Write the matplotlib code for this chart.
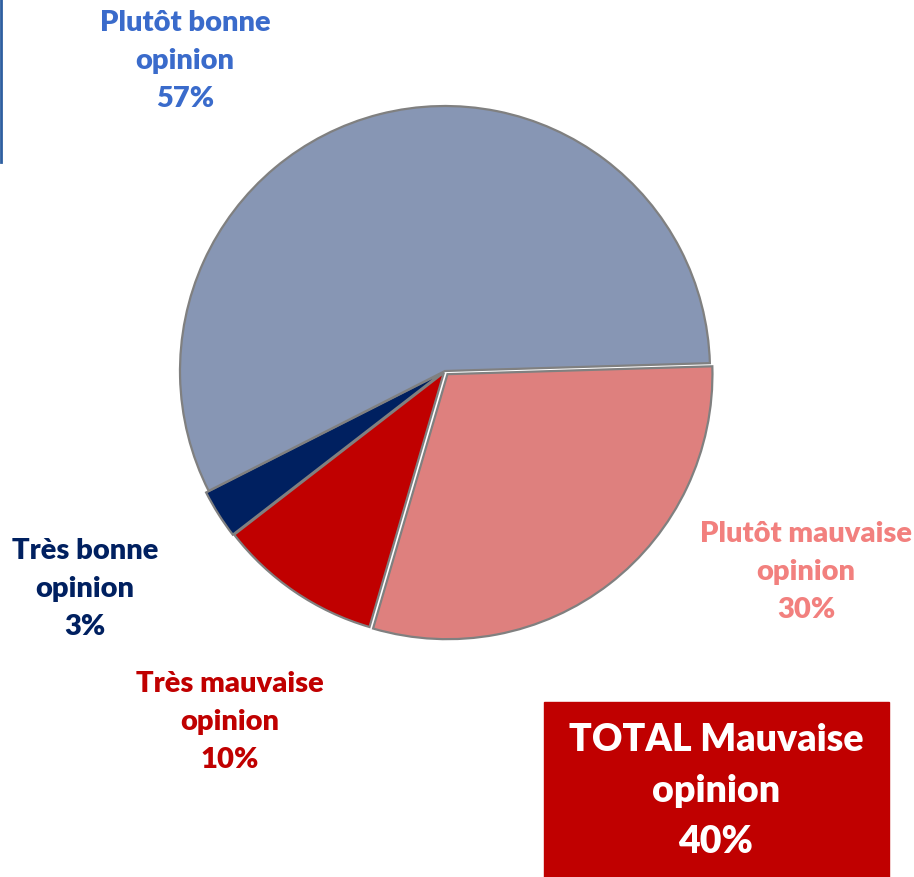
import matplotlib.pyplot as plt
from matplotlib.patches import Rectangle

# slice order follows the picture, clockwise from the 3 o'clock line
labels = ['Plutôt mauvaise\nopinion', 'Très mauvaise\nopinion', 'Très bonne\nopinion', 'Plutôt bonne\nopinion']
values = [30, 10, 3, 57]
colors = ['#DE807E', '#C00000', '#002060', '#8796B4']
label_colors = ['#F2807E', '#C00000', '#002060', '#3A6BCB']
total_label = 'TOTAL Mauvaise\nopinion'
total_value = 40

plt.rcParams['font.family'] = ['Lato', 'DejaVu Sans']

W, H = 914, 878
fig = plt.figure(figsize=(W / 100, H / 100), dpi=100)
ax = fig.add_axes([0, 0, 1, 1])

def py(y):
    return H - y

ax.pie(values, colors=colors, startangle=1.7, counterclock=False,
       center=(445, py(372)), radius=265, explode=[4, 2, 3, 0],
       wedgeprops=dict(edgecolor='#808080', linewidth=1.6))
ax.set_xlim(0, W)
ax.set_ylim(0, H)
ax.set_aspect('auto')
ax.axis('off')

# label positions (pixel centres of the text blocks)
label_pos = [(806, 572), (230, 722), (85, 589), (185, 61)]
for lab, v, c, (x, y) in zip(labels, values, label_colors, label_pos):
    ax.text(x, py(y), f'{lab}\n{v}%', color=c, fontsize=21, fontweight='heavy',
            ha='center', va='center', linespacing=1.56)

ax.add_patch(Rectangle((544, py(878)), 345, 175, color='#C00000'))
ax.text(716, py(791), f'{total_label}\n{total_value}%', color='white', fontsize=27,
        fontweight='heavy', ha='center', va='center', linespacing=1.6)

ax.plot([1, 1], [py(0), py(163)], color='#2E5FA0', linewidth=2)

fig.savefig('out.png', dpi=100)
